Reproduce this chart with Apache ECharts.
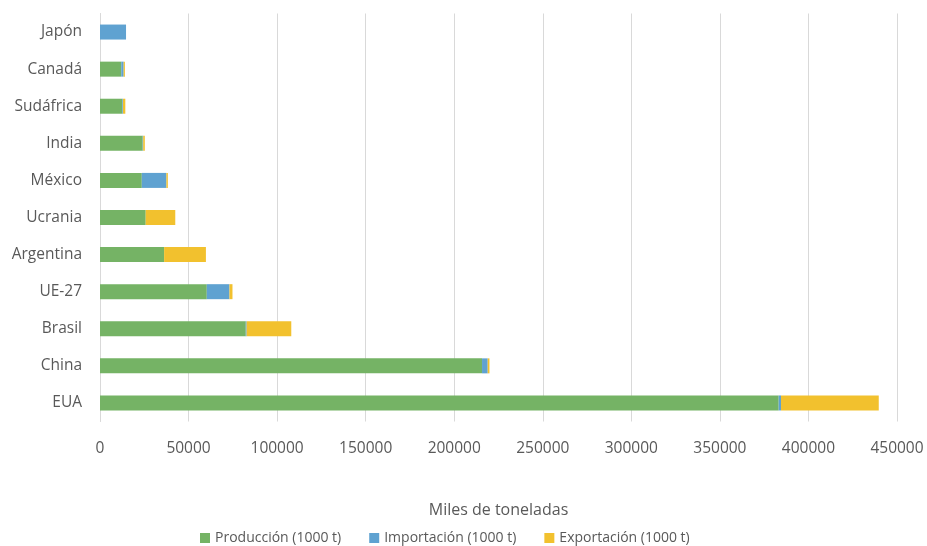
<!DOCTYPE html>
<html><head><meta charset="utf-8">
<script src="https://cdn.jsdelivr.net/npm/echarts@6/dist/echarts.min.js"></script>
<style>html,body{margin:0;padding:0;background:#fff}#c{width:927px;height:546px}</style>
</head><body><div id="c"></div>
<script>
const categories = ['EUA','China','Brasil','UE-27','Argentina','Ucrania','México','India','Sudáfrica','Canadá','Japón'];
const produccion = [383200, 215700, 82300, 60300, 36200, 25800, 23600, 24100, 12600, 12000, 0];
const importacion = [1300, 3200, 500, 12800, 0, 0, 13900, 300, 400, 1350, 14700];
const exportacion = [55200, 1000, 25200, 1700, 23600, 16700, 800, 900, 1300, 700, 0];
const xTicks = [0, 50000, 100000, 150000, 200000, 250000, 300000, 350000, 400000, 450000];
const seriesNames = ['Producción (1000 t)', 'Importación (1000 t)', 'Exportación (1000 t)'];
const colors = ['#75B365', '#5FA2D1', '#F2C12E'];

const font = '"Open Sans", "Liberation Sans", sans-serif';
const chart = echarts.init(document.getElementById('c'));
const mk = (name, data, color) => ({
  name, type: 'bar', stack: 'total', data, barWidth: 15,
  itemStyle: { color }, emphasis: { disabled: true }
});
chart.setOption({
  animation: false,
  textStyle: { fontFamily: font },
  grid: { left: 100, right: 30, top: 13.5, bottom: 124.5, containLabel: false },
  xAxis: {
    type: 'value', min: xTicks[0], max: xTicks[xTicks.length - 1], interval: 50000,
    axisLine: { show: false }, axisTick: { show: false },
    splitLine: { lineStyle: { color: '#D9D9D9', width: 1 } },
    axisLabel: { color: '#595959', fontSize: 15.5, margin: 19, fontFamily: font,
      formatter: v => String(v) },
    name: 'Miles de toneladas', nameLocation: 'middle', nameGap: 81,
    nameTextStyle: { color: '#595959', fontSize: 16, fontFamily: font }
  },
  yAxis: {
    type: 'category', data: categories,
    axisLine: { show: true, lineStyle: { color: '#D9D9D9' } },
    axisTick: { show: false },
    axisLabel: { color: '#595959', fontSize: 15.5, margin: 18, fontFamily: font }
  },
  legend: {
    top: 526, left: 195, itemWidth: 10, itemHeight: 10, itemGap: 28,
    icon: 'rect',
    textStyle: { color: '#595959', fontSize: 14, fontFamily: font },
    data: seriesNames
  },
  series: [
    mk(seriesNames[0], produccion, colors[0]),
    mk(seriesNames[1], importacion, colors[1]),
    mk(seriesNames[2], exportacion, colors[2])
  ]
});
</script></body></html>
